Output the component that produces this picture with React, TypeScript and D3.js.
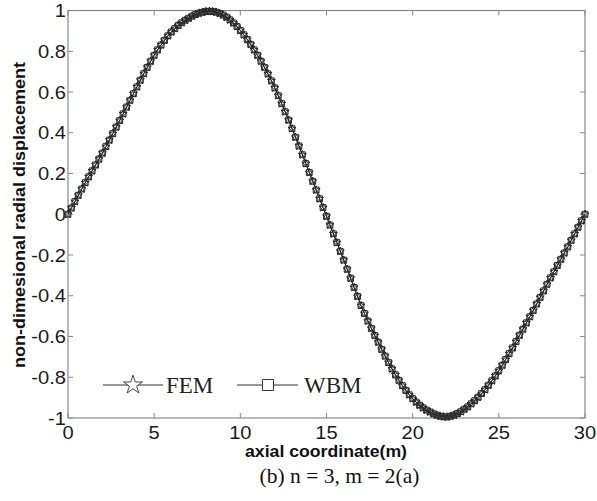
import React from "react";
import * as d3 from "d3";

const xStep = 0.2;
const xTicks = [0, 5, 10, 15, 20, 25, 30];
const yTicks = [-1, -0.8, -0.6, -0.4, -0.2, 0, 0.2, 0.4, 0.6, 0.8, 1];
const yTickLabels = ["-1", "-0.8", "-0.6", "-0.4", "-0.2", "0", "0.2", "0.4", "0.6", "0.8", "1"];

// FEM values, sampled every 0.2 m along the axial coordinate
const femY = [
  0.0,
  0.031, 0.062, 0.093, 0.124, 0.155, 0.184, 0.213, 0.242, 0.271,
  0.300, 0.332, 0.364, 0.396, 0.428, 0.460, 0.493, 0.526, 0.559, 0.592,
  0.625, 0.658, 0.690, 0.721, 0.751, 0.780, 0.807, 0.831, 0.854, 0.876,
  0.895, 0.911, 0.927, 0.940, 0.952, 0.962, 0.972, 0.980, 0.987, 0.991,
  0.995, 0.996, 0.995, 0.992, 0.986, 0.978, 0.967, 0.954, 0.939, 0.922,
  0.902, 0.881, 0.858, 0.834, 0.807, 0.780, 0.751, 0.721, 0.689, 0.655,
  0.620, 0.582, 0.543, 0.503, 0.462, 0.420, 0.378, 0.335, 0.292, 0.249,
  0.205, 0.162, 0.119, 0.076, 0.033, -0.010, -0.053, -0.096, -0.139, -0.182,
  -0.225, -0.270, -0.314, -0.359, -0.403, -0.448, -0.487, -0.524, -0.560, -0.595,
  -0.628, -0.663, -0.696, -0.728, -0.759, -0.788, -0.815, -0.841, -0.864, -0.886,
  -0.905, -0.922, -0.937, -0.950, -0.961, -0.970, -0.979, -0.986, -0.991, -0.994,
  -0.995, -0.991, -0.986, -0.978, -0.969, -0.957, -0.945, -0.930, -0.915, -0.898,
  -0.880, -0.861, -0.839, -0.817, -0.793, -0.768, -0.741, -0.713, -0.684, -0.656,
  -0.625, -0.594, -0.564, -0.533, -0.503, -0.472, -0.440, -0.408, -0.376, -0.344,
  -0.312, -0.282, -0.251, -0.221, -0.190, -0.160, -0.128, -0.096, -0.064, -0.032,
  0.0,
];
// WBM values coincide with FEM within plotting accuracy
const wbmY = femY.slice();

const seriesNames = ["FEM", "WBM"];
const xLabel = "axial coordinate(m)";
const yLabel = "non-dimesional radial displacement";
const caption = "(b) n = 3, m = 2(a)";

const W = 597;
const H = 501;
const L = 68;
const R = 585;
const T = 10.5;
const B = 418;

export default function App() {
  const x = d3.scaleLinear().domain([0, 30]).range([L, R]);
  const y = d3.scaleLinear().domain([-1, 1]).range([B, T]);
  const fem = femY.map((v, i) => [i * xStep, v] as [number, number]);
  const wbm = wbmY.map((v, i) => [i * xStep, v] as [number, number]);
  const line = d3
    .line<[number, number]>()
    .x((d) => x(d[0]))
    .y((d) => y(d[1]));
  const star = d3.symbol().type(d3.symbolStar).size(20)() as string;
  const square = d3.symbol().type(d3.symbolSquare).size(34)() as string;
  const starBig = d3.symbol().type(d3.symbolStar).size(110)() as string;
  const squareBig = d3.symbol().type(d3.symbolSquare).size(120)() as string;
  const axisColor = "#8a8a8a";
  const tickLen = 5;
  const sans = "'Liberation Sans', Arial, sans-serif";
  const serif = "'Liberation Serif', 'Times New Roman', serif";
  const legY = 385;

  return (
    <div style={{ position: "absolute", left: 0, top: 0 }}>
      <svg width={W} height={H} style={{ display: "block", background: "#fff" }}>
        <rect x={0} y={0} width={W} height={H} fill="#fff" />
        {/* axes box */}
        <rect x={L} y={T} width={R - L} height={B - T} fill="none" stroke={axisColor} strokeWidth={1.2} />
        {xTicks.map((t) => (
          <g key={"xt" + t}>
            <line x1={x(t)} x2={x(t)} y1={B} y2={B - tickLen} stroke={axisColor} />
            <line x1={x(t)} x2={x(t)} y1={T} y2={T + tickLen} stroke={axisColor} />
            <text
              transform={`translate(${x(t)},438.5) scale(1.15,1)`}
              textAnchor="middle"
              fontFamily={sans}
              fontSize={17.5}
              fill="#1a1a1a"
            >
              {t}
            </text>
          </g>
        ))}
        {yTicks.map((t, i) => (
          <g key={"yt" + i}>
            <line x1={L} x2={L + tickLen} y1={y(t)} y2={y(t)} stroke={axisColor} />
            <line x1={R} x2={R - tickLen} y1={y(t)} y2={y(t)} stroke={axisColor} />
            <text
              transform={`translate(66,${y(t) + 6.5}) scale(1.15,1)`}
              textAnchor="end"
              fontFamily={sans}
              fontSize={17.5}
              fill="#1a1a1a"
            >
              {yTickLabels[i]}
            </text>
          </g>
        ))}
        {/* curves */}
        <path d={line(fem) as string} fill="none" stroke="#222" strokeWidth={1} />
        <path d={line(wbm) as string} fill="none" stroke="#222" strokeWidth={1} />
        {fem.map((d, i) => (
          <path
            key={"s" + i}
            d={star}
            transform={`translate(${x(d[0])},${y(d[1])})`}
            fill="none"
            stroke="#2a2a2a"
            strokeWidth={1}
          />
        ))}
        {wbm.map((d, i) => (
          <path
            key={"q" + i}
            d={square}
            transform={`translate(${x(d[0])},${y(d[1])})`}
            fill="none"
            stroke="#2a2a2a"
            strokeWidth={1}
          />
        ))}
        {/* legend */}
        <line x1={103} x2={163} y1={legY} y2={legY} stroke="#333" strokeWidth={1} />
        <path d={starBig} transform={`translate(133,${legY})`} fill="#fff" stroke="#333" strokeWidth={0.9} />
        <text x={166} y={legY + 8} fontFamily={serif} fontSize={23} fill="#222">
          {seriesNames[0]}
        </text>
        <line x1={237} x2={298} y1={legY} y2={legY} stroke="#333" strokeWidth={1} />
        <path d={squareBig} transform={`translate(268,${legY})`} fill="#fff" stroke="#333" strokeWidth={1} />
        <text x={304} y={legY + 8} fontFamily={serif} fontSize={23} fill="#222">
          {seriesNames[1]}
        </text>
        {/* axis labels */}
        <text
          x={326}
          y={457}
          textAnchor="middle"
          fontFamily={sans}
          fontWeight="bold"
          fontSize={16.5}
          textLength={162}
          lengthAdjust="spacingAndGlyphs"
          fill="#111"
        >
          {xLabel}
        </text>
        <text
          transform="translate(25,215) rotate(-90)"
          textAnchor="middle"
          fontFamily={sans}
          fontWeight="bold"
          fontSize={16.5}
          textLength={306}
          lengthAdjust="spacingAndGlyphs"
          fill="#111"
        >
          {yLabel}
        </text>
        <text x={339.5} y={483} textAnchor="middle" fontFamily={serif} fontSize={21.5} fill="#111">
          {caption}
        </text>
      </svg>
    </div>
  );
}
